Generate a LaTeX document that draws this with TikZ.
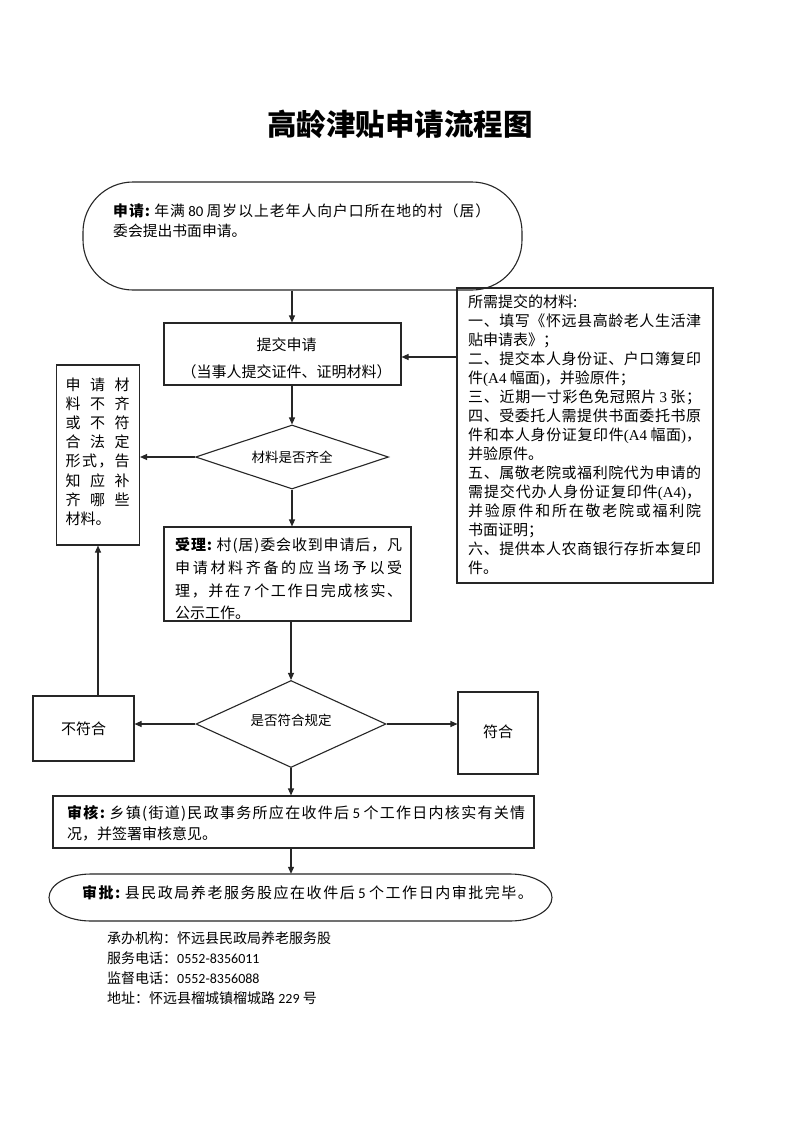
\documentclass[tikz,border=0pt]{standalone}
\usepackage{fontspec}
\setmainfont{Noto Sans CJK SC}
\newfontfamily\calfont{Carlito}
\newfontfamily\timesfont{Liberation Serif}
\usetikzlibrary{shapes.geometric,arrows.meta,calc}

% spreading of CJK characters inside fixed-width lines
\chardef\cjkcls=200
\newcount\cjkc
\def\setcjkrange#1#2{\cjkc=#1\relax\loop\XeTeXcharclass\cjkc=\cjkcls\advance\cjkc 1\relax\ifnum\cjkc<#2\relax\repeat}
\setcjkrange{"3000}{"3040}
\setcjkrange{"4E00}{"A000}
\setcjkrange{"FF00}{"FFF0}
\XeTeXinterchartoks\cjkcls\cjkcls={\hskip 0pt plus 1fil\relax}
\XeTeXinterchartoks 0 \cjkcls={\hskip 0pt plus 1fil\relax}
\XeTeXinterchartoks\cjkcls 0 ={\hskip 0pt plus 1fil\relax}
\newcommand\jline[2]{\hbox to #1{\XeTeXinterchartokenstate=1\relax #2}}

\tikzset{
  ln/.style={line width=1.1pt, draw=black!85},
  box/.style={ln, rectangle, inner sep=0pt},
  dia/.style={ln, diamond, inner sep=0pt},
  arr/.style={line width=1.1pt, draw=black!85, -{Triangle[length=7pt,width=6pt]}},
  txt/.style={inner sep=0pt, anchor=north west, align=left},
}

\begin{document}
\begin{tikzpicture}[x=1pt,y=-1pt]
\useasboundingbox[fill=white] (0,0) rectangle (793,1122);

% title
\node[inner sep=0pt] (title) at (400,124) {\fontsize{29.5}{32}\selectfont\bfseries 高龄津贴申请流程图};

% application (stadium)
\node[box, rounded corners=50pt, minimum width=439pt, minimum height=108pt] (apply) at (302.5,236) {};
\node[txt, font=\fontsize{14.8}{20}\selectfont] (applytxt) at (113,203.5) {%
\jline{377pt}{\textbf{申请:} 年满 {\calfont 80} 周岁以上老年人向户口所在地的村（居）}\\
委会提出书面申请。};

% submit box
\node[box, minimum width=237pt, minimum height=62pt] (submit) at (282.5,354) {};
\node[inner sep=0pt, align=center, font=\fontsize{15}{27}\selectfont] (submittxt) at (286.5,358.5) {提交申请\\（当事人提交证件、证明材料）};

% materials box
\node[box, minimum width=256pt, minimum height=295pt] (mat) at (585,435.5) {};
\node[txt, font=\fontsize{15}{19}\selectfont] (mattxt) at (468,294.5) {%
所需提交的材料:\\
\jline{233pt}{一、填写《怀远县高龄老人生活津}\\
贴申请表》；\\
\jline{233pt}{二、提交本人身份证、户口簿复印}\\
件{\timesfont (A4} 幅面{\timesfont )}，并验原件；\\
\jline{233pt}{三、近期一寸彩色免冠照片 {\timesfont 3} 张；}\\
\jline{233pt}{四、受委托人需提供书面委托书原}\\
\jline{233pt}{件和本人身份证复印件{\timesfont (A4} 幅面{\timesfont )}，}\\
并验原件。\\
\jline{233pt}{五、属敬老院或福利院代为申请的}\\
\jline{233pt}{需提交代办人身份证复印件{\timesfont (A4)}，}\\
\jline{233pt}{并验原件和所在敬老院或福利院}\\
书面证明；\\
\jline{233pt}{六、提供本人农商银行存折本复印}\\
件。};

% check 1
\node[dia, shape aspect=3, minimum width=193pt, minimum height=64pt, font=\fontsize{13.5}{15}\selectfont] (chk1) at (292,457) {\raisebox{1.5pt}{材料是否齐全}};

% lacking materials box
\node[box, minimum width=83pt, minimum height=180pt] (lack) at (98,455) {};
\node[txt, font=\fontsize{15}{19.15}\selectfont] (lacktxt) at (65.5,377.5) {%
\jline{64pt}{申请材}\\
\jline{64pt}{料不齐}\\
\jline{64pt}{或不符}\\
\jline{64pt}{合法定}\\
\jline{64pt}{形式，告}\\
\jline{64pt}{知应补}\\
\jline{64pt}{齐哪些}\\
材料。};

% accept box
\node[box, minimum width=247pt, minimum height=94pt] (accept) at (287.5,574) {};
\node[txt, font=\fontsize{15}{22.7}\selectfont] (accepttxt) at (175,537.5) {%
\jline{227pt}{\textbf{受理:} 村(居)委会收到申请后，凡}\\
\jline{227pt}{申请材料齐备的应当场予以受}\\
\jline{227pt}{理，并在 {\calfont 7} 个工作日完成核实、}\\
公示工作。};

% check 2
\node[dia, shape aspect=2.2, minimum width=190pt, minimum height=87pt, font=\fontsize{13.5}{15}\selectfont] (chk2) at (291,724) {\raisebox{9pt}{是否符合规定}};

% not matching / matching
\node[box, minimum width=101pt, minimum height=65pt, font=\fontsize{15}{18}\selectfont] (nomatch) at (83.5,728.5) {\raisebox{-4pt}{不符合}};
\node[box, minimum width=80pt, minimum height=82pt, font=\fontsize{15}{18}\selectfont] (match) at (498,733) {\raisebox{3pt}{符合}};

% review box
\node[box, minimum width=481pt, minimum height=52pt] (review) at (293.5,822) {};
\node[txt, font=\fontsize{15}{20.5}\selectfont] (reviewtxt) at (67,805.5) {%
\jline{458pt}{\textbf{审核:} 乡镇(街道)民政事务所应在收件后 {\calfont 5} 个工作日内核实有关情}\\
况，并签署审核意见。};

% approval (lens)
\node[inner sep=0pt, minimum width=503pt, minimum height=47pt] (approve) at (300.5,897.5) {};
\draw[ln] (91,874) .. controls (67.8,874) and (49,884.5) .. (49,897.5)
  .. controls (49,910.5) and (67.8,921) .. (91,921) -- (510,921)
  .. controls (533.2,921) and (552,910.5) .. (552,897.5)
  .. controls (552,884.5) and (533.2,874) .. (510,874) -- cycle;
\node[inner sep=0pt, font=\fontsize{15}{18}\selectfont] (approvetxt) at (307.5,893) {%
\jline{451pt}{\textbf{审批:} 县民政局养老服务股应在收件后 {\calfont 5} 个工作日内审批完毕。}};

% footer
\node[txt, font=\fontsize{14}{20}\selectfont] (footer) at (107,931) {%
承办机构：怀远县民政局养老服务股\\
服务电话：{\calfont 0552-8356011}\\
监督电话：{\calfont 0552-8356088}\\
地址：怀远县榴城镇榴城路 {\calfont 229} 号};

% connectors
\draw[arr] (apply.south -| chk1.north) -- (submit.north -| chk1.north);
\draw[arr] (submit.south -| chk1.north) -- (chk1.north);
\coordinate (in1) at ([yshift=-3pt]submit.east);
\draw[arr] (in1 -| mat.west) -- (in1);
\draw[arr] (chk1.west) -- (chk1.west -| lack.east);
\draw[arr] (chk1.south) -- (accept.north -| chk1.south);
\draw[arr] (accept.south -| chk2.north) -- (chk2.north);
\draw[arr] (chk2.west) -- (chk2.west -| nomatch.east);
\draw[arr] (chk2.east) -- (chk2.east -| match.west);
\draw[arr] (nomatch.north -| lack.south) -- (lack.south);
\draw[arr] (chk2.south) -- (review.north -| chk2.south);
\draw[arr] (review.south -| chk2.south) -- (approve.north -| chk2.south);
\end{tikzpicture}
\end{document}
